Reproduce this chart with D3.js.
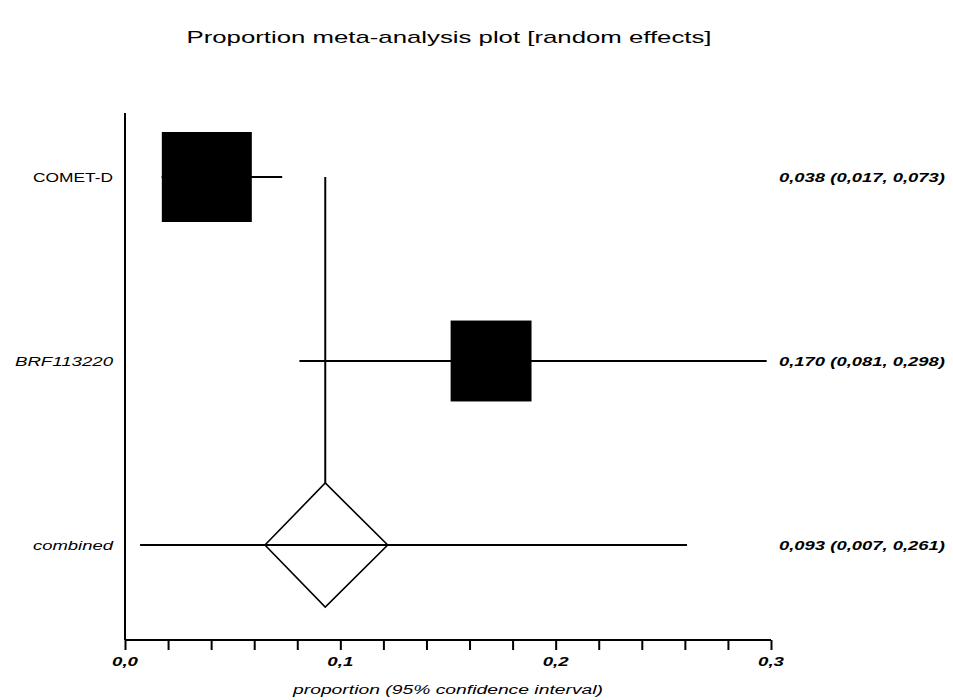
<!DOCTYPE html>
<html><head><meta charset="utf-8">
<script src="https://cdn.jsdelivr.net/npm/d3@7"></script>
<style>body{margin:0;background:#fff}svg{display:block}</style>
</head><body>
<script>
// ---- data ----
const studies = ["COMET-D", "BRF113220"];
const studyItalic = [false, true];
const estimates = [0.038, 0.170];
const lower = [0.017, 0.081];
const upper = [0.073, 0.298];
const weights = [0.553, 0.447];
const pooledLabel = "combined";
const pooledEst = 0.093;
const pooledLow = 0.007;
const pooledHigh = 0.261;
const diamondLow = 0.065;
const diamondHigh = 0.122;
const resultLabels = ["0,038 (0,017, 0,073)", "0,170 (0,081, 0,298)", "0,093 (0,007, 0,261)"];
const xTicks = [0, 0.1, 0.2, 0.3];
const xTickLabels = ["0,0", "0,1", "0,2", "0,3"];
const minorStep = 0.02;
const title = "Proportion meta-analysis plot [random effects]";
const xTitle = "proportion (95% confidence interval)";

const W = 953, H = 700;
const svg = d3.select("body").append("svg").attr("width", W).attr("height", H);
const font = "Liberation Sans, Arial, sans-serif";

const x = d3.scaleLinear().domain([0, 0.3]).range([125, 771]);
const rows = [...studies, pooledLabel];
const y = d3.scalePoint().domain(rows).range([177, 545]);
const size = d3.scaleSqrt().domain([0, 0.553]).range([0, 90]);

// title
svg.append("text").attr("x", 449).attr("y", 43).attr("text-anchor", "middle")
  .attr("font-family", font).attr("font-size", 17)
  .attr("textLength", 525).attr("lengthAdjust", "spacingAndGlyphs")
  .text(title);

// y axis line
svg.append("line").attr("x1", 125).attr("x2", 125).attr("y1", 113).attr("y2", 640)
  .attr("stroke", "#000").attr("stroke-width", 2);

// x axis
const minorTicks = d3.range(0, 0.3 + 1e-9, minorStep);
const axis = d3.axisBottom(x).tickValues(minorTicks).tickSize(10).tickFormat("");
const gx = svg.append("g").attr("transform", "translate(0,640)").call(axis);
gx.select(".domain").attr("stroke-width", 2).attr("d", `M${x(0)},0H${x(0.3)}`);
gx.selectAll(".tick line").attr("stroke-width", 2);
svg.selectAll(".xlab").data(xTicks).join("text")
  .attr("x", d => x(d)).attr("y", 666).attr("text-anchor", "middle")
  .attr("font-family", font).attr("font-size", 13).attr("font-style", "italic").attr("font-weight", "bold")
  .attr("textLength", 26).attr("lengthAdjust", "spacingAndGlyphs")
  .text((d, i) => xTickLabels[i]);
svg.append("text").attr("x", 448).attr("y", 694).attr("text-anchor", "middle")
  .attr("font-family", font).attr("font-size", 12).attr("font-style", "italic")
  .attr("textLength", 310).attr("lengthAdjust", "spacingAndGlyphs")
  .text(xTitle);

// vertical pooled line
svg.append("line").attr("x1", x(pooledEst)).attr("x2", x(pooledEst))
  .attr("y1", y(studies[0])).attr("y2", y(pooledLabel) - 62)
  .attr("stroke", "#000").attr("stroke-width", 2);

// study CIs and boxes
studies.forEach((s, i) => {
  svg.append("line").attr("x1", x(lower[i])).attr("x2", x(upper[i]))
    .attr("y1", y(s)).attr("y2", y(s)).attr("stroke", "#000").attr("stroke-width", 2);
  const sz = size(weights[i]);
  svg.append("rect").attr("x", x(estimates[i]) - sz / 2).attr("y", y(s) - sz / 2)
    .attr("width", sz).attr("height", sz).attr("fill", "#000");
});

// pooled
svg.append("line").attr("x1", x(pooledLow)).attr("x2", x(pooledHigh))
  .attr("y1", y(pooledLabel)).attr("y2", y(pooledLabel)).attr("stroke", "#000").attr("stroke-width", 2);
const cy = y(pooledLabel);
svg.append("path")
  .attr("d", `M${x(diamondLow)},${cy}L${x(pooledEst)},${cy - 62}L${x(diamondHigh)},${cy}L${x(pooledEst)},${cy + 62}Z`)
  .attr("fill", "none").attr("stroke", "#000").attr("stroke-width", 1.6);

// left labels
const leftW = [80, 98, 80];
rows.forEach((r, i) => {
  svg.append("text").attr("x", 113).attr("y", y(r) + 5).attr("text-anchor", "end")
    .attr("font-family", font).attr("font-size", 13)
    .attr("font-style", (i < studies.length ? studyItalic[i] : true) ? "italic" : "normal")
    .attr("textLength", leftW[i]).attr("lengthAdjust", "spacingAndGlyphs")
    .text(r);
});

// right labels
rows.forEach((r, i) => {
  svg.append("text").attr("x", 779).attr("y", y(r) + 5)
    .attr("font-family", font).attr("font-size", 13).attr("font-style", "italic").attr("font-weight", "bold")
    .attr("textLength", 166).attr("lengthAdjust", "spacingAndGlyphs")
    .text(resultLabels[i]);
});
</script>
</body></html>
